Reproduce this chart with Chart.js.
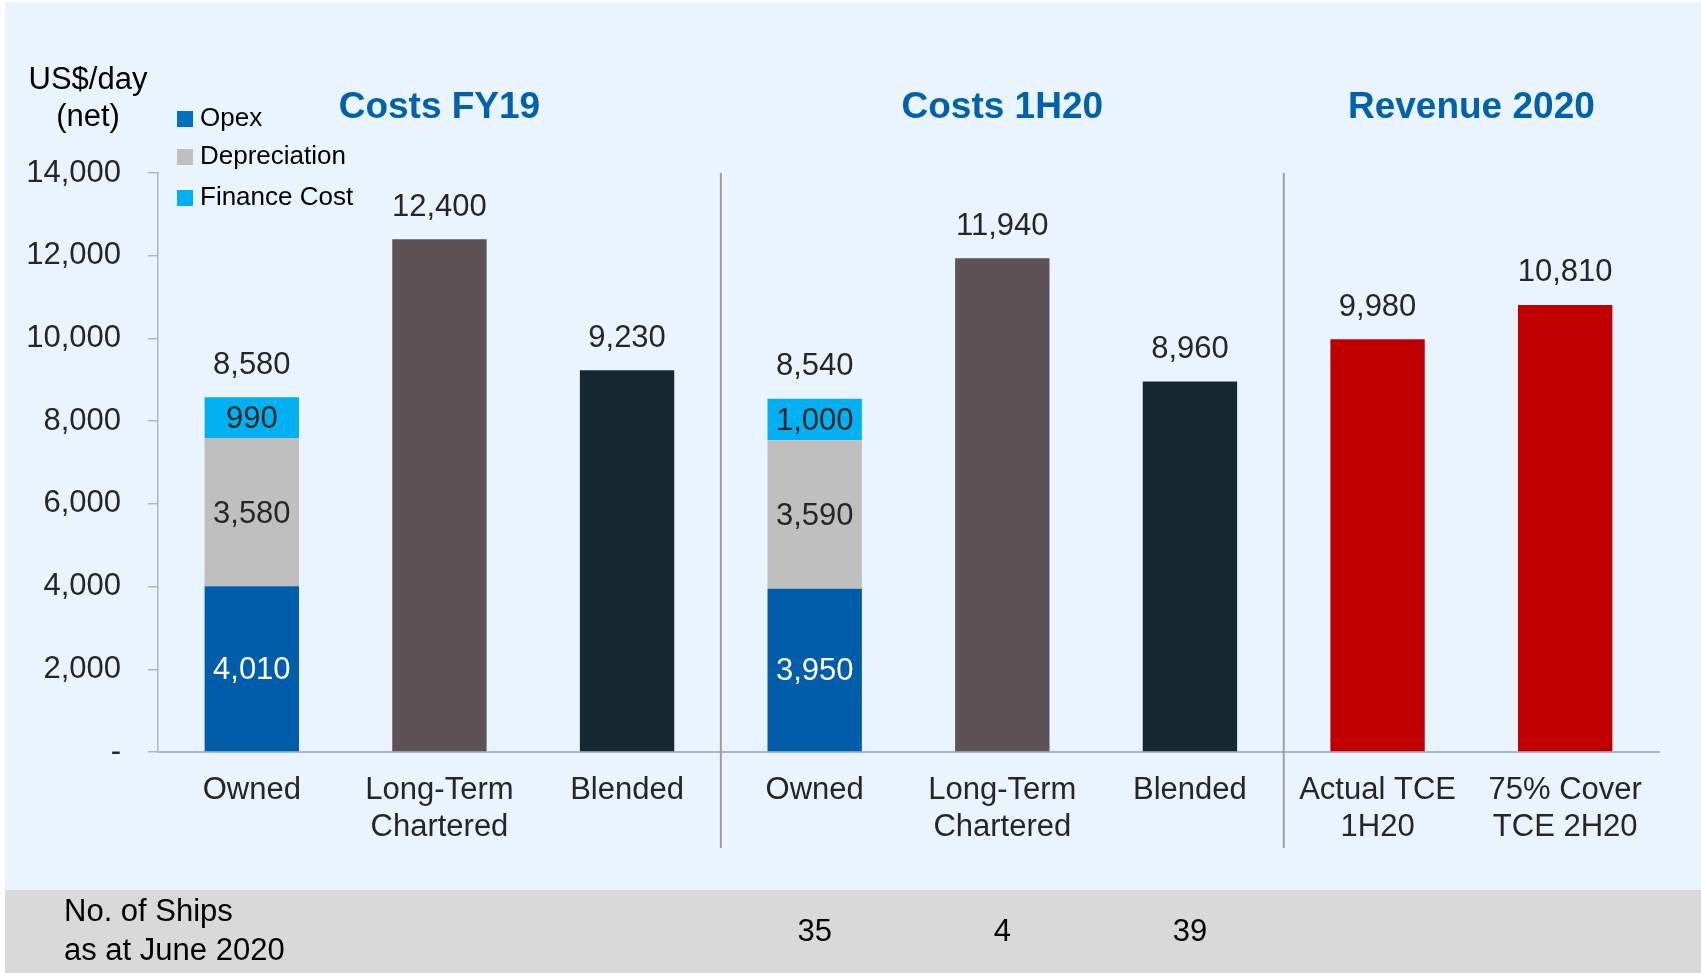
<!DOCTYPE html>
<html>
<head>
<meta charset="utf-8">
<script src="https://cdn.jsdelivr.net/npm/chart.js@4/dist/chart.umd.min.js"></script>
<style>
  html, body { margin:0; padding:0; background:#fff; }
  canvas { display:block; }
</style>
</head>
<body>
<canvas id="chart" width="1701" height="973"></canvas>
<script>
// 0) Data (US$/day, net)
const categories    = ['Owned', ['Long-Term','Chartered'], 'Blended',
                       'Owned', ['Long-Term','Chartered'], 'Blended',
                       ['Actual TCE','1H20'], ['75% Cover','TCE 2H20']];
const opex          = [4010, null, null, 3950, null, null, null, null];
const depreciation  = [3580, null, null, 3590, null, null, null, null];
const financeCost   = [ 990, null, null, 1000, null, null, null, null];
const charteredCost = [null, 12400, null, null, 11940, null, null, null];
const blendedCost   = [null, null, 9230, null, null, 8960, null, null];
const revenueTce    = [null, null, null, null, null, null, 9980, 10810];
const shipCounts    = [null, null, null, 35, 4, 39, null, null];
const groupTitles   = ['Costs FY19', 'Costs 1H20', 'Revenue 2020'];
const groupRanges   = [[0, 2], [3, 5], [6, 7]];
const yTicks        = [0, 2000, 4000, 6000, 8000, 10000, 12000, 14000];

const FONT  = "'Liberation Sans', Arial, sans-serif";
const TEXT  = '#262626';
const AXIS  = '#A9B8C8';
const fmt   = v => v === 0 ? '-' : v.toLocaleString('en-US');

// background, grey ship-count band
const backdrop = {
  id: 'backdrop',
  beforeDraw(chart) {
    const { ctx, width, height } = chart;
    ctx.save();
    ctx.fillStyle = '#fff';
    ctx.fillRect(0, 0, width, height);
    ctx.fillStyle = '#EAF4FE';
    ctx.fillRect(5, 2, width - 5, height - 2);
    ctx.fillStyle = '#D9D9D9';
    ctx.fillRect(5, 890, width - 5, height - 890);
    ctx.restore();
  }
};

// value labels: inside the stacked segments + totals above each bar
const valueLabels = {
  id: 'valueLabels',
  afterDatasetsDraw(chart) {
    const { ctx } = chart;
    ctx.save();
    ctx.font = `31px ${FONT}`;
    ctx.textAlign = 'center';
    ctx.textBaseline = 'middle';
    const tops = {};
    chart.data.datasets.forEach((ds, di) => {
      chart.getDatasetMeta(di).data.forEach((el, i) => {
        const v = ds.data[i];
        if (v == null) return;
        const t = tops[i] || (tops[i] = { y: Infinity, sum: 0 });
        t.sum += v;
        t.y = Math.min(t.y, el.y);
        t.x = el.x;
        if (ds.inside) {
          ctx.fillStyle = ds.inside;
          ctx.fillText(fmt(v), el.x, (el.y + el.base) / 2 + 2);
        }
      });
    });
    ctx.fillStyle = TEXT;
    Object.values(tops).forEach(t => ctx.fillText(fmt(t.sum), t.x, t.y - 32));
    ctx.restore();
  }
};

// group titles, dividers, legend, axis title, ship counts
const decorations = {
  id: 'decorations',
  afterDraw(chart) {
    const { ctx, chartArea } = chart;
    const x = chart.scales.x;
    ctx.save();

    // dividers between groups
    ctx.strokeStyle = '#A39CA1';
    ctx.lineWidth = 2;
    groupRanges.slice(1).forEach(([first]) => {
      const px = (x.getPixelForValue(first - 1) + x.getPixelForValue(first)) / 2;
      ctx.beginPath();
      ctx.moveTo(px, chartArea.top);
      ctx.lineTo(px, 848);
      ctx.stroke();
    });

    // titles
    ctx.font = `bold 37px ${FONT}`;
    ctx.fillStyle = '#0061AC';
    ctx.textAlign = 'center';
    ctx.textBaseline = 'middle';
    groupTitles.forEach((t, g) => {
      const [a, b] = groupRanges[g];
      ctx.fillText(t, (x.getPixelForValue(a) + x.getPixelForValue(b)) / 2, 108);
    });

    // y axis title
    ctx.font = `31px ${FONT}`;
    ctx.fillStyle = '#000';
    ctx.fillText('US$/day', 88, 80);
    ctx.fillText('(net)', 88, 117);

    // legend (first three series)
    ctx.font = `26px ${FONT}`;
    ctx.textAlign = 'left';
    [119, 157, 198].forEach((cy, di) => {
      const ds = chart.data.datasets[di];
      ctx.fillStyle = ds.legendColor || ds.backgroundColor;
      ctx.fillRect(177, cy - 8, 16, 16);
      ctx.fillStyle = '#000';
      ctx.fillText(ds.label, 200, cy);
    });

    // ship counts band
    ctx.font = `31px ${FONT}`;
    ctx.fillStyle = '#000';
    ctx.fillText('No. of Ships', 64, 912);
    ctx.fillText('as at June 2020', 64, 951);
    ctx.textAlign = 'center';
    shipCounts.forEach((n, i) => {
      if (n != null) ctx.fillText(String(n), x.getPixelForValue(i), 932);
    });
    ctx.restore();
  }
};

const barOpts = { barPercentage: 0.503, categoryPercentage: 1, stack: 's', borderWidth: 0 };

new Chart(document.getElementById('chart').getContext('2d'), {
  type: 'bar',
  data: {
    labels: categories,
    datasets: [
      { ...barOpts, label: 'Opex',         data: opex,          backgroundColor: '#005DA9', legendColor: '#0070C0', inside: '#fff' },
      { ...barOpts, label: 'Depreciation', data: depreciation,  backgroundColor: '#BFBFBF', inside: TEXT },
      { ...barOpts, label: 'Finance Cost', data: financeCost,   backgroundColor: '#00B0F0', inside: TEXT },
      { ...barOpts, label: 'Long-Term Chartered', data: charteredCost, backgroundColor: '#5E5257' },
      { ...barOpts, label: 'Blended',      data: blendedCost,   backgroundColor: '#172833' },
      { ...barOpts, label: 'Revenue',      data: revenueTce,    backgroundColor: '#C00000' }
    ]
  },
  options: {
    responsive: false,
    animation: false,
    devicePixelRatio: 1,
    layout: { padding: { top: 173, right: 42, left: 0, bottom: 0 } },
    plugins: { legend: { display: false }, tooltip: { enabled: false } },
    scales: {
      x: {
        stacked: true,
        afterFit: s => { s.height = 221; },
        grid: { drawOnChartArea: false, drawTicks: false },
        border: { display: true, color: AXIS, width: 2 },
        ticks: { color: TEXT, font: { family: FONT, size: 31, lineHeight: 1.2 }, padding: 20, maxRotation: 0, autoSkip: false }
      },
      y: {
        stacked: true,
        min: 0, max: 14000,
        afterFit: s => { s.width = 158; },
        afterBuildTicks: s => { s.ticks = yTicks.map(v => ({ value: v })); },
        grid: { drawOnChartArea: false, drawTicks: true, tickLength: 10, color: AXIS, lineWidth: 1.5 },
        border: { display: true, color: AXIS, width: 1.5 },
        ticks: { color: TEXT, font: { family: FONT, size: 31 }, padding: 27, callback: v => fmt(v) }
      }
    }
  },
  plugins: [backdrop, valueLabels, decorations]
});
</script>
</body>
</html>
